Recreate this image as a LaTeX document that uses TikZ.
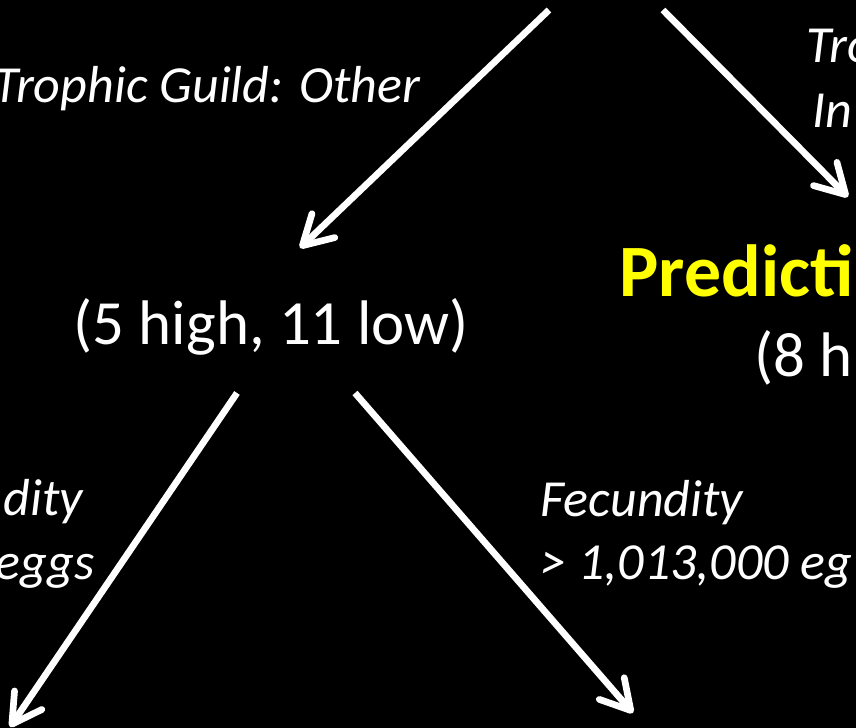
\documentclass[tikz,border=0pt]{standalone}
\usepackage{fontspec}
\setmainfont{Carlito}
\usetikzlibrary{arrows.meta, positioning, calc}
\definecolor{slidebg}{HTML}{000000}
\definecolor{predyellow}{HTML}{FFFF00}

\begin{document}
\begin{tikzpicture}[
    x=0.01cm, y=-0.01cm,
    % 1. split conditions on the branches
    splitlabel/.style={
        text=white,
        font=\fontsize{14.8}{17.6}\selectfont\itshape,
        inner sep=0pt
    },
    % 2. class counts under a node
    countlabel/.style={
        text=white,
        font=\fontsize{17.9}{21}\selectfont,
        inner sep=0pt
    },
    % 3. prediction heading
    predlabel/.style={
        text=predyellow,
        font=\fontsize{21}{24}\selectfont\bfseries,
        inner sep=0pt
    },
    % branch arrow
    branch/.style={
        -{Straight Barb[length=0.29cm, width=0.33cm, round]},
        line width=1.9pt,
        draw=white
    }
]

    % --- 0. slide background ---
    \useasboundingbox (0,0) rectangle (856,728);
    \fill[slidebg] (0,0) rectangle (856,728);
    \clip (0,0) rectangle (856,728);

    % --- 1. nodes ---
    \node[countlabel, anchor=base west] (lowcount) at (73,345) {(5 high, 11 low)};
    \node[predlabel, anchor=base west] (predR) at (619,297) {Predicti};
    \node[countlabel, anchor=base west] (highcountR) at (754,377) {(8 h};

    % --- 2. branch labels ---
    \node[splitlabel, anchor=base east] (guildOther) at (421,103) {Trophic Guild: Other};
    \node[splitlabel, anchor=base west] (guildR1) at (806,63) {Tro};
    \node[splitlabel, anchor=base west] (guildR2) at (812,128) {In};
    \node[splitlabel, anchor=base east] (fecL1) at (84,516) {dity};
    \node[splitlabel, anchor=base east] (fecL2) at (95,580) {eggs};
    \node[splitlabel, anchor=base west] (fecR1) at (540,517) {Fecundity};
    \node[splitlabel, anchor=base west] (fecR2) at (540,580) {> 1,013,000 eg};

    % --- 3. arrow ends ---
    \coordinate (rootL) at (549,10);
    \coordinate (rootR) at (663,10);
    \coordinate (lowIn) at (300,248);
    \coordinate (predIn) at (848,197);
    \coordinate (lowOutL) at (237,393);
    \coordinate (lowOutR) at (355,393);
    \coordinate (leafL) at (10,727);
    \coordinate (leafR) at (633,713);

    % --- 4. arrows ---
    \draw[branch] (rootL) -- (lowIn);
    \draw[branch] (rootR) -- (predIn);
    \draw[branch] (lowOutL) -- (leafL);
    \draw[branch] (lowOutR) -- (leafR);

\end{tikzpicture}
\end{document}
